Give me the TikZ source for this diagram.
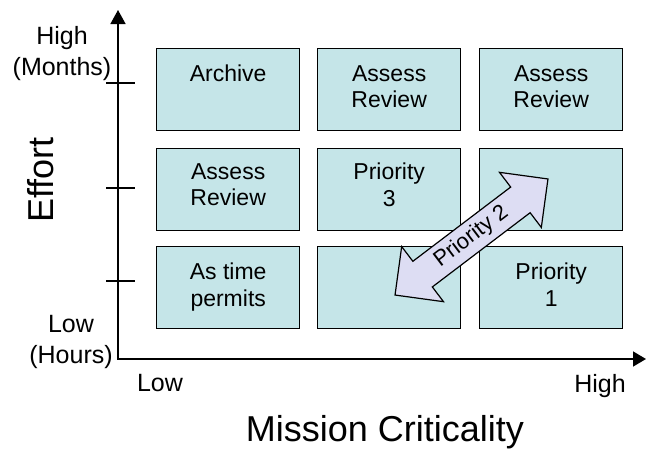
\documentclass[tikz,border=0pt]{standalone}
\usepackage{fontspec}
\setmainfont{Liberation Sans}
\usetikzlibrary{arrows.meta,shapes.arrows,calc}
\definecolor{cellfill}{RGB}{197,229,232}
\definecolor{arrowfill}{RGB}{221,221,243}
\begin{document}
\begin{tikzpicture}[x=1pt,y=-1pt,
  cell/.style={draw=black, line width=1.4pt, fill=cellfill, minimum width=143pt,
    minimum height=82pt, inner sep=0pt, anchor=north west},
  celltext/.style={anchor=north, inner sep=0pt, align=center,
    font=\fontsize{23}{26.5}\selectfont},
  axistext/.style={inner sep=0pt, align=center, font=\fontsize{25}{31}\selectfont},
  titletext/.style={inner sep=0pt, font=\fontsize{36}{40}\selectfont},
  tickmark/.style={line width=1.4pt},
  axisline/.style={line width=1.6pt,
    {Triangle[length=14pt,width=15pt]}-{Triangle[length=13pt,width=15pt]}},
  ]
\useasboundingbox (0,0) rectangle (646,451);

% axes
\coordinate (ytip) at (118,10);
\coordinate (origin) at (118,359);
\coordinate (xtip) at (646,359);
\draw[axisline] (ytip) -- (origin) -- (xtip);

% tick marks on the effort axis
\foreach \ty in {83,188,281}
  \draw[tickmark] (106,\ty) -- (135,\ty);

% grid of cells
\node[cell] (c11) at (156,48) {};
\node[cell] (c12) at (317,48) {};
\node[cell] (c13) at (479,48) {};
\node[cell] (c21) at (156,148) {};
\node[cell] (c22) at (317,148) {};
\node[cell] (c23) at (479,148) {};
\node[cell] (c31) at (156,246) {};
\node[cell] (c32) at (317,246) {};
\node[cell] (c33) at (479,246) {};

\node[celltext] (t11) at ($(c11.north)+(0,17)$) {Archive};
\node[celltext] (t12) at ($(c12.north)+(0,17)$) {Assess\\Review};
\node[celltext] (t13) at ($(c13.north)+(0,17)$) {Assess\\Review};
\node[celltext] (t21) at ($(c21.north)+(0,15)$) {Assess\\Review};
\node[celltext] (t22) at ($(c22.north)+(0,15)$) {Priority\\3};
\node[celltext] (t31) at ($(c31.north)+(0,17)$) {As time\\permits};
\node[celltext] (t33) at ($(c33.north)+(0,17)$) {Priority\\1};

% two-headed priority arrow
\node[double arrow, draw=black, line width=1.2pt, fill=arrowfill, rotate=37.2,
  minimum height=192pt, double arrow head extend=18.5pt, double arrow tip angle=90,
  inner xsep=0pt, inner ysep=5pt, text height=16pt, text depth=5pt,
  font=\fontsize{22}{26}\selectfont] (p2) at (471.5,237) {Priority 2};

% axis labels
\node[axistext, anchor=north] (yhigh) at (62,26) {High\\(Months)};
\node[axistext, anchor=north] (ylow) at (71,315) {Low\\(Hours)};
\node[axistext, anchor=base] (xlow) at (160,391) {Low};
\node[axistext, anchor=base] (xhigh) at (600,392) {High};
\node[titletext, anchor=base, rotate=90] (effort) at (53,180) {Effort};
\node[titletext, anchor=base] (mission) at (385,441) {Mission Criticality};
\end{tikzpicture}
\end{document}
